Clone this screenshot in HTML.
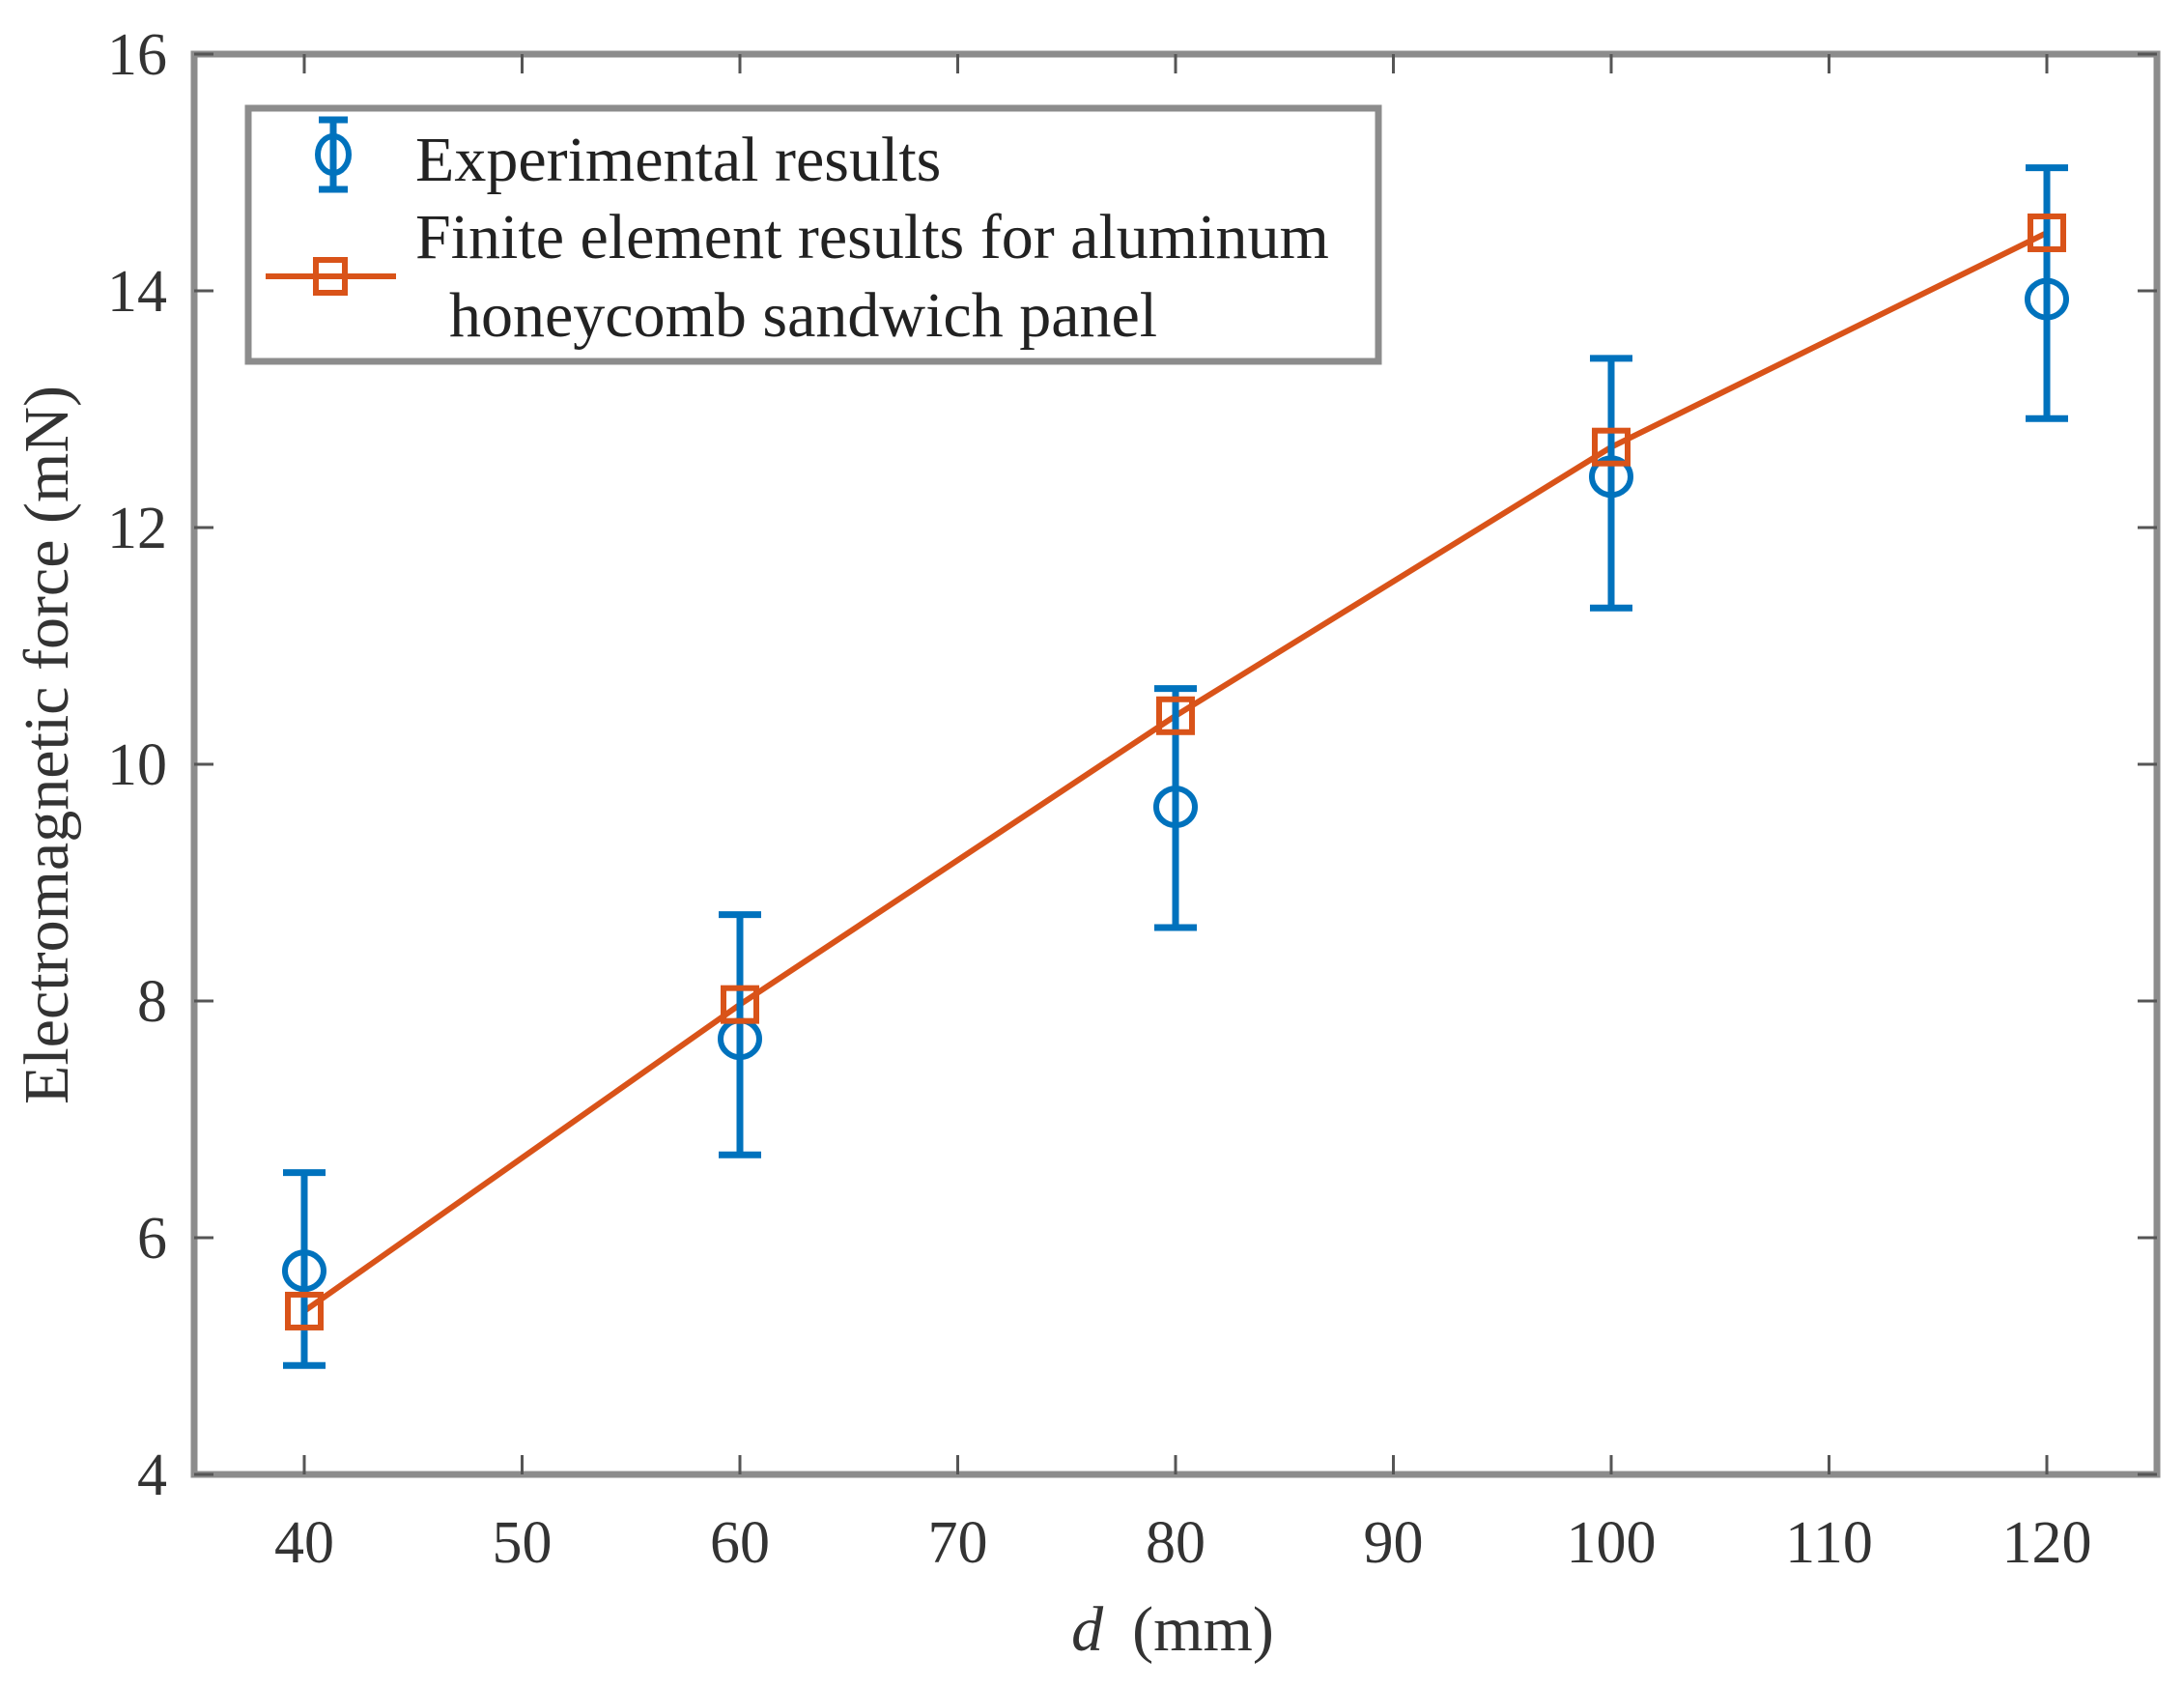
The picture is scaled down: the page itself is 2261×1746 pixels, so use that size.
<!DOCTYPE html>
<html><head><meta charset="utf-8"><style>
html,body{margin:0;padding:0;background:#fff;}
svg{display:block;font-family:"Liberation Serif",serif;}
</style></head><body>
<svg id="chart" width="2261" height="1746" viewBox="0 0 2261 1746">
<g id="axes"></g>
<g id="series"></g>
<g id="legend">
  <rect x="257" y="112" width="1170" height="262" fill="#fff" stroke="#8c8c8c" stroke-width="7"/>
  <g>
    <line x1="345" y1="124" x2="345" y2="196" stroke="#0072BD" stroke-width="7"/>
    <line x1="330" y1="124" x2="360" y2="124" stroke="#0072BD" stroke-width="7"/>
    <line x1="330" y1="196" x2="360" y2="196" stroke="#0072BD" stroke-width="7"/>
    <ellipse cx="345" cy="160" rx="16" ry="19" fill="none" stroke="#0072BD" stroke-width="6"/>
    <text x="430" y="187" font-size="66" fill="#222">Experimental results</text>
  </g>
  <g>
    <line x1="275" y1="286" x2="410" y2="286" stroke="#D95319" stroke-width="6"/>
    <rect x="327" y="269" width="30" height="34" fill="none" stroke="#D95319" stroke-width="6"/>
    <text x="430" y="267" font-size="66" fill="#222">Finite element results for aluminum</text>
    <text x="465" y="348" font-size="66" fill="#222">honeycomb sandwich panel</text>
  </g>
</g>
</svg>
<script>
const xValues = [40, 60, 80, 100, 120];
const expValues = [5.72, 7.68, 9.64, 12.43, 13.93];
const expUpper = [6.55, 8.73, 10.64, 13.43, 15.04];
const expLower = [4.92, 6.70, 8.62, 11.32, 12.92];
const feValues = [5.38, 7.97, 10.41, 12.68, 14.49];
const xTicks = [40, 50, 60, 70, 80, 90, 100, 110, 120];
const yTicks = [4, 6, 8, 10, 12, 14, 16];

const L = 201, R = 2233, T = 56, B = 1526;
function xs(v){ return 315 + (v - 40) * 22.55; }
function ys(v){ return B - (v - 4) * (B - T) / 12; }
const NS = "http://www.w3.org/2000/svg";
function mk(tag, attrs, parent){ const e = document.createElementNS(NS, tag); for (const k in attrs) e.setAttribute(k, attrs[k]); parent.appendChild(e); return e; }

const axes = document.getElementById('axes');
const frame = mk('rect', {x:L, y:T, width:R-L, height:B-T, fill:'none', stroke:'#8c8c8c', 'stroke-width':7}, axes);


xTicks.forEach(t => {
  const x = xs(t);
  const a = mk('line', {x1:x, y1:B, x2:x, y2:B-20, stroke:'#555', 'stroke-width':3}, axes);
  
  
  const b = mk('line', {x1:x, y1:T, x2:x, y2:T+20, stroke:'#555', 'stroke-width':3}, axes);
  
  
  const lb = mk('text', {x:x, y:1617, 'font-size':62, 'text-anchor':'middle', fill:'#333'}, axes);
  lb.textContent = t;
  
  
});
yTicks.forEach(t => {
  const y = ys(t);
  const a = mk('line', {x1:L, y1:y, x2:L+20, y2:y, stroke:'#555', 'stroke-width':3}, axes);
  
  
  const b = mk('line', {x1:R, y1:y, x2:R-20, y2:y, stroke:'#555', 'stroke-width':3}, axes);
  
  
  const lb = mk('text', {x:173, y:y+21, 'font-size':62, 'text-anchor':'end', fill:'#333'}, axes);
  lb.textContent = t;
  
  
});
const yt = mk('text', {x:0, y:0, 'font-size':66, 'text-anchor':'middle', fill:'#333', transform:'translate(70,771) rotate(-90)'}, axes);
yt.textContent = 'Electromagnetic force (mN)';


const xt = mk('text', {x:1214, y:1708, 'font-size':66, 'text-anchor':'middle', fill:'#333'}, axes);
xt.innerHTML = '<tspan font-style="italic">d</tspan><tspan dx="30">(mm)</tspan>';



const series = document.getElementById('series');
const pts = xValues.map((v,i) => xs(v) + ',' + ys(feValues[i])).join(' ');
const pl = mk('polyline', {points:pts, fill:'none', stroke:'#D95319', 'stroke-width':6}, series);


xValues.forEach((v,i) => {
  const x = xs(v);
  const g = mk('g', {}, series);
  
  
  mk('line', {x1:x, y1:ys(expUpper[i]), x2:x, y2:ys(expLower[i]), stroke:'#0072BD', 'stroke-width':7}, g);
  mk('line', {x1:x-22, y1:ys(expUpper[i]), x2:x+22, y2:ys(expUpper[i]), stroke:'#0072BD', 'stroke-width':7}, g);
  mk('line', {x1:x-22, y1:ys(expLower[i]), x2:x+22, y2:ys(expLower[i]), stroke:'#0072BD', 'stroke-width':7}, g);
  const c = mk('ellipse', {cx:x, cy:ys(expValues[i]), rx:20, ry:19, fill:'none', stroke:'#0072BD', 'stroke-width':6}, series);
  
  
});
xValues.forEach((v,i) => {
  const s = mk('rect', {x:xs(v)-17, y:ys(feValues[i])-17, width:34, height:34, fill:'none', stroke:'#D95319', 'stroke-width':6}, series);
  
  
});
</script>
</body></html>
